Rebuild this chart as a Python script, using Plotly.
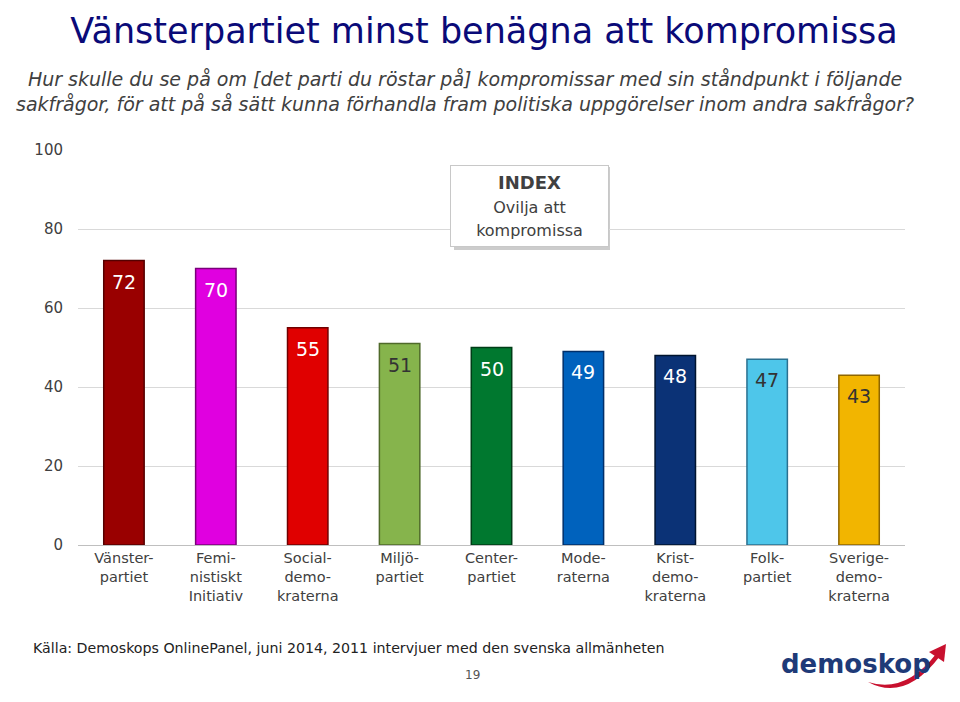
import plotly.graph_objects as go

categories = ["Vänster-<br>partiet", "Femi-<br>nistiskt<br>Initiativ", "Social-<br>demo-<br>kraterna",
              "Miljö-<br>partiet", "Center-<br>partiet", "Mode-<br>raterna",
              "Krist-<br>demo-<br>kraterna", "Folk-<br>partiet", "Sverige-<br>demo-<br>kraterna"]
values = [72, 70, 55, 51, 50, 49, 48, 47, 43]
bar_colors = ["#990000", "#e000e0", "#e00000", "#86b44c", "#00782f", "#0062bd", "#0b3276", "#4ec6ea", "#f2b500"]
edge_colors = ["#550000", "#7a007a", "#700000", "#4f6a2a", "#003d17", "#002f6a", "#00142f", "#2a7090", "#8f6600"]
label_colors = ["white", "white", "white", "#333333", "white", "white", "white", "#333333", "#333333"]
y_ticks = [0, 20, 40, 60, 80, 100]

# page has an 8px body margin; work in reference-screen pixels and subtract it
OFF = 8
W, H = 952, 694
L, R, T, B = 78 - OFF, 55, 150 - OFF, 157
PW, PH = W - L - R, H - T - B

def px(x):
    return (x - OFF - L) / PW

def py(y):
    return (H - B - (y - OFF)) / PH

fig = go.Figure()
fig.add_trace(go.Bar(
    x=categories, y=values,
    marker=dict(color=bar_colors, line=dict(color=edge_colors, width=1.5)),
    width=0.44, hoverinfo="x+y",
))

annotations = []
for c, v, lc in zip(categories, values, label_colors):
    annotations.append(dict(x=c, y=v, xref="x", yref="y", text=str(v), showarrow=False,
                            yanchor="top", yshift=-8, font=dict(family="DejaVu Sans", size=19, color=lc)))

# Index box
annotations.append(dict(
    x=px(529), y=py(206), xref="paper", yref="paper", showarrow=False,
    text="<b>INDEX</b><br><span style='font-size:16px'>Ovilja att<br>kompromissa</span>",
    font=dict(family="DejaVu Sans", size=18, color="#404040"),
    bgcolor="white", bordercolor="#c8c8c8", borderwidth=1, borderpad=6,
    width=145, height=68, align="center", xanchor="center", yanchor="middle"))

# Subtitle
annotations.append(dict(
    x=px(465), y=py(91), xref="paper", yref="paper", showarrow=False,
    text="<i>Hur skulle du se på om [det parti du röstar på] kompromissar med sin ståndpunkt i följande<br>"
         "sakfrågor, för att på så sätt kunna förhandla fram politiska uppgörelser inom andra sakfrågor?</i>",
    font=dict(family="DejaVu Sans", size=19, color="#404040"), align="center",
    xanchor="center", yanchor="middle"))

# Source
annotations.append(dict(
    x=px(31), y=py(648), xref="paper", yref="paper", showarrow=False,
    text="Källa: Demoskops OnlinePanel, juni 2014, 2011 intervjuer med den svenska allmänheten",
    font=dict(family="DejaVu Sans", size=14.2, color="#222222"), xanchor="left", yanchor="middle"))

annotations.append(dict(
    x=px(472), y=py(675), xref="paper", yref="paper", showarrow=False, text="19",
    font=dict(family="DejaVu Sans", size=12, color="#555555"), xanchor="center", yanchor="middle"))

annotations.append(dict(
    x=px(856), y=py(664), xref="paper", yref="paper", showarrow=False, text="<b>demoskop</b>",
    font=dict(family="DejaVu Sans", size=26, color="#1e3a78"), xanchor="center", yanchor="middle"))

def pth(points):
    s = "M {} {}".format(px(points[0][0]), py(points[0][1]))
    for p in points[1:]:
        s += " L {} {}".format(px(p[0]), py(p[1]))
    return s + " Z"

shapes = [
    # shadow of index box
    dict(type="rect", xref="paper", yref="paper", x0=px(454), x1=px(610), y0=py(167), y1=py(250),
         fillcolor="#bfbfbf", line=dict(width=0), layer="below", opacity=0.8),
    # red swoosh
    dict(type="path", xref="paper", yref="paper",
         path="M {} {} Q {} {} {} {} L {} {} Q {} {} {} {} Z".format(
             px(868), py(682), px(905), py(702), px(940), py(656),
             px(936), py(654), px(905), py(694), px(868), py(682)),
         fillcolor="#c8102e", line=dict(width=0)),
    dict(type="path", xref="paper", yref="paper",
         path=pth([(946, 644), (944, 662), (929, 652)]),
         fillcolor="#c8102e", line=dict(width=0)),
]

fig.update_layout(
    width=W, height=H,
    margin=dict(l=L, r=R, t=T, b=B),
    paper_bgcolor="white", plot_bgcolor="white",
    title=dict(text="Vänsterpartiet minst benägna att kompromissa", x=0.5, xanchor="center",
               y=1 - (31 - OFF) / H, yanchor="middle",
               font=dict(family="DejaVu Sans", size=35, color="#0a0a78")),
    showlegend=False,
    bargap=0.56,
    xaxis=dict(showgrid=False, showline=True, linecolor="#bfbfbf", ticks="",
               tickfont=dict(family="DejaVu Sans", size=14.5, color="#404040")),
    yaxis=dict(range=[0, 100], tickvals=y_ticks, showgrid=True, gridcolor="#d9d9d9", zeroline=False,
               ticks="", ticklabelstandoff=14,
               tickfont=dict(family="DejaVu Sans", size=15, color="#404040")),
    annotations=annotations,
    shapes=shapes,
)

fig.write_html("out.html")
